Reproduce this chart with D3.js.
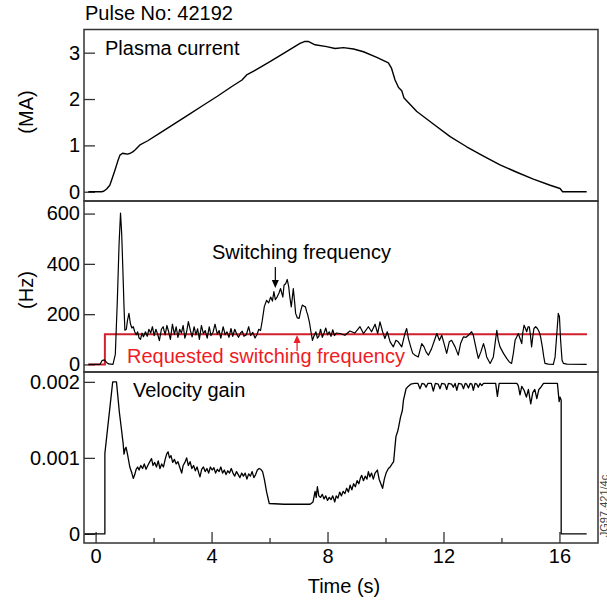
<!DOCTYPE html>
<html>
<head>
<meta charset="utf-8">
<script src="https://cdn.jsdelivr.net/npm/d3@7"></script>
<style>
  html, body { margin: 0; padding: 0; background: #fff; }
  svg { display: block; font-family: "Liberation Sans", Arial, Helvetica, sans-serif; }
</style>
</head>
<body>
<svg id="chart" width="607" height="605"></svg>
<script>
// ---------------- DATA ----------------
const pulseTitle = "Pulse No: 42192";
const xTickMajor = [0, 4, 8, 12, 16];
const xTickMinor = [2, 6, 10, 14];
const ipTicks = [0, 1, 2, 3];
const freqTicks = [0, 200, 400, 600];
const gainTicks = [0, 0.001, 0.002];

// Plasma current (MA) vs time (s)
const plasmaCurrent = [
  [-0.25,0],[0.2,0],[0.28,0.01],[0.38,0.06],[0.49,0.14],[0.58,0.3],[0.67,0.47],[0.76,0.65],[0.84,0.79],
  [0.93,0.83],[1.02,0.82],[1.1,0.81],[1.2,0.83],[1.28,0.86],[1.36,0.9],[1.53,1.01],[1.8,1.1],[2.2,1.26],
  [2.7,1.46],[3.2,1.66],[3.7,1.86],[4.2,2.06],[4.7,2.27],[5.05,2.41],[5.21,2.52],[5.5,2.62],[6.0,2.8],
  [6.5,2.99],[7.05,3.2],[7.2,3.24],[7.35,3.24],[7.57,3.17],[7.97,3.13],[8.26,3.09],[8.55,3.11],[8.9,3.08],
  [9.24,3.02],[9.7,2.9],[10.1,2.78],[10.21,2.66],[10.33,2.41],[10.45,2.25],[10.56,2.18],[10.64,2.02],
  [11.08,1.73],[11.65,1.46],[12.23,1.19],[12.8,0.97],[13.38,0.77],[13.95,0.58],[14.53,0.42],[15.1,0.27],
  [15.68,0.14],[16.02,0.07],[16.11,0.0],[16.94,0.0]
];

// Switching frequency (Hz) vs time (s)
const switchingFreq = [
  [-0.25,0],[0.15,0],[0.22,15],[0.3,18],[0.38,8],[0.45,2],[0.6,0],[0.68,40],[0.75,255],[0.81,480],
  [0.86,602],[0.9,520],[0.94,380],[0.98,230],[1.01,136],[1.06,140],[1.1,175],[1.15,203],[1.2,163],
  [1.25,145],[1.3,150],[1.35,130],[1.4,118],[1.45,130],[1.5,105],[1.55,100],[1.6,125],[1.65,110],
  [1.72,130],[1.78,112],[1.84,140],[1.9,125],[1.96,150],[2.02,115],[2.08,140],[2.14,120],[2.2,95],
  [2.27,140],[2.33,150],[2.4,118],[2.46,155],[2.52,130],[2.58,100],[2.65,160],[2.72,120],[2.78,150],
  [2.84,108],[2.9,140],[2.96,125],[3.02,155],[3.08,105],[3.14,130],[3.2,170],[3.27,135],[3.33,110],
  [3.4,150],[3.46,118],[3.52,142],[3.58,100],[3.65,155],[3.72,122],[3.78,135],[3.85,105],[3.92,150],
  [3.98,115],[4.05,128],[4.12,160],[4.2,120],[4.26,135],[4.32,105],[4.4,150],[4.47,118],[4.53,130],
  [4.6,108],[4.67,143],[4.73,112],[4.8,140],[4.87,120],[4.93,108],[5.0,125],[5.06,132],[5.12,112],
  [5.2,118],[5.28,150],[5.35,115],[5.42,128],[5.5,105],[5.57,120],[5.63,140],[5.69,135],[5.75,175],
  [5.82,230],[5.9,255],[5.97,245],[6.04,268],[6.1,252],[6.15,290],[6.2,258],[6.27,270],[6.33,285],
  [6.38,302],[6.46,268],[6.5,315],[6.56,322],[6.61,338],[6.66,310],[6.7,268],[6.75,229],[6.79,270],
  [6.82,302],[6.86,255],[6.9,203],[6.96,185],[7.02,183],[7.08,215],[7.13,236],[7.18,232],[7.24,229],
  [7.28,210],[7.32,196],[7.38,165],[7.42,136],[7.48,96],[7.54,115],[7.6,130],[7.65,105],[7.7,112],
  [7.76,140],[7.82,108],[7.88,125],[7.94,145],[8.0,118],[8.06,130],[8.12,112],[8.18,138],[8.24,115],
  [8.3,125],[8.43,123],[8.6,116],[8.77,133],[8.94,125],[9.12,150],[9.24,123],[9.41,150],[9.52,130],
  [9.64,160],[9.73,123],[9.81,169],[9.9,130],[9.98,103],[10.06,130],[10.16,90],[10.27,70],[10.36,96],
  [10.44,90],[10.56,70],[10.67,123],[10.73,143],[10.79,103],[10.87,70],[10.94,44],[11.02,37],
  [11.13,30],[11.25,83],[11.33,70],[11.4,50],[11.48,37],[11.59,63],[11.69,96],[11.77,123],[11.86,96],
  [11.94,116],[12.02,83],[12.11,44],[12.2,90],[12.28,96],[12.4,70],[12.51,37],[12.59,83],[12.69,110],
  [12.78,108],[12.86,116],[12.97,130],[13.03,116],[13.09,83],[13.15,50],[13.2,24],[13.29,50],
  [13.38,83],[13.43,63],[13.49,30],[13.61,4],[13.72,30],[13.78,83],[13.84,136],[13.89,96],[13.95,70],
  [14.07,44],[14.18,24],[14.27,10],[14.35,4],[14.41,44],[14.47,96],[14.53,110],[14.58,123],[14.64,103],
  [14.7,83],[14.73,123],[14.78,156],[14.83,143],[14.87,130],[14.92,150],[14.96,150],[15.0,116],
  [15.04,70],[15.08,110],[15.12,143],[15.18,150],[15.24,143],[15.3,130],[15.35,110],[15.41,70],
  [15.46,30],[15.5,4],[15.62,1],[15.79,0],[15.85,30],[15.91,123],[15.96,203],[16.0,190],[16.04,96],
  [16.09,17],[16.14,4],[16.26,1],[16.94,0]
];

// Requested switching frequency (Hz)
const requestedFreq = [[-0.25,0],[0.32,0],[0.32,120],[16.95,120]];

// Velocity gain vs time (s)
const velocityGain = [
  [-0.37,0],[0.32,0],[0.32,0.00106],[0.59,0.002],[0.72,0.002],[0.82,0.0016],[0.9,0.00135],[0.95,0.00119],
  [0.98,0.00105],[1.02,0.00112],[1.05,0.00114],[1.1,0.00105],[1.18,0.00088],[1.25,0.0008],[1.3,0.00073],
  [1.35,0.00078],[1.4,0.00085],[1.45,0.00088],[1.5,0.00084],[1.56,0.0009],[1.62,0.00086],[1.68,0.00092],
  [1.74,0.00085],[1.8,0.0009],[1.87,0.00095],[1.93,0.00099],[1.98,0.0009],[2.04,0.00094],[2.1,0.00088],
  [2.16,0.00096],[2.22,0.00086],[2.28,0.00092],[2.34,0.00088],[2.4,0.00098],[2.45,0.00105],[2.5,0.00108],
  [2.55,0.001],[2.6,0.00103],[2.66,0.00094],[2.72,0.00098],[2.78,0.00092],[2.84,0.00095],[2.9,0.00088],
  [2.97,0.0008],[3.02,0.0009],[3.08,0.00094],[3.14,0.001],[3.2,0.0009],[3.26,0.00095],[3.32,0.00086],
  [3.38,0.0009],[3.44,0.00083],[3.5,0.00088],[3.56,0.0008],[3.6,0.00075],[3.66,0.00085],[3.72,0.00088],
  [3.78,0.00082],[3.84,0.00086],[3.9,0.0008],[3.96,0.00088],[4.02,0.00084],[4.08,0.00087],[4.14,0.0008],
  [4.2,0.00085],[4.26,0.00082],[4.32,0.00088],[4.38,0.0008],[4.44,0.00084],[4.5,0.00078],[4.56,0.00083],
  [4.62,0.0008],[4.68,0.00086],[4.74,0.0008],[4.8,0.00076],[4.86,0.00082],[4.92,0.00078],[4.98,0.00074],
  [5.04,0.0008],[5.1,0.00076],[5.16,0.0008],[5.22,0.00072],[5.28,0.00079],[5.34,0.00076],[5.4,0.00082],
  [5.46,0.00074],[5.52,0.00078],[5.58,0.00084],[5.64,0.00086],[5.7,0.00085],[5.76,0.00082],[5.82,0.00072],
  [5.9,0.00055],[5.99,0.0004],[6.5,0.00039],[7.0,0.00039],[7.4,0.00039],[7.5,0.00042],[7.57,0.00056],
  [7.61,0.00048],[7.65,0.00062],[7.7,0.0005],[7.76,0.00048],[7.82,0.00052],[7.88,0.00046],[7.94,0.0005],
  [8.0,0.00044],[8.06,0.00048],[8.12,0.00045],[8.18,0.0005],[8.25,0.00042],[8.3,0.0005],[8.36,0.00047],
  [8.42,0.00055],[8.48,0.0005],[8.54,0.00056],[8.6,0.00053],[8.66,0.0006],[8.72,0.00055],[8.78,0.00064],
  [8.84,0.00058],[8.9,0.00066],[8.96,0.00062],[9.02,0.0007],[9.08,0.00066],[9.14,0.00074],[9.18,0.00077],
  [9.24,0.0007],[9.3,0.00076],[9.36,0.00072],[9.41,0.00082],[9.46,0.00075],[9.52,0.0008],[9.58,0.00072],
  [9.64,0.0008],[9.72,0.00084],[9.78,0.00072],[9.84,0.00066],[9.9,0.0006],[9.96,0.00072],[10.02,0.0008],
  [10.1,0.00086],[10.16,0.00088],[10.21,0.00091],[10.28,0.00095],[10.36,0.00128],[10.42,0.00135],
  [10.45,0.0014],[10.52,0.00154],[10.58,0.00162],[10.62,0.00176],[10.68,0.00186],[10.71,0.00191],
  [10.78,0.00194],[10.87,0.00197],[11.0,0.00198],[11.12,0.00198],[11.19,0.00191],[11.26,0.00198],
  [11.34,0.00197],[11.4,0.00193],[11.46,0.00198],[11.58,0.00198],[11.65,0.00188],[11.72,0.00198],
  [11.82,0.00197],[11.88,0.00191],[11.94,0.00198],[12.05,0.00197],[12.11,0.0019],[12.17,0.00198],
  [12.28,0.00197],[12.34,0.00193],[12.4,0.00198],[12.46,0.00189],[12.52,0.00198],[12.63,0.00197],
  [12.69,0.00191],[12.75,0.00198],[12.8,0.00197],[12.86,0.00192],[12.92,0.00198],[12.98,0.00197],
  [13.03,0.00189],[13.09,0.00198],[13.15,0.00197],[13.2,0.00193],[13.26,0.00198],[13.32,0.00195],
  [13.38,0.00198],[13.8,0.00198],[13.86,0.00181],[13.92,0.00198],[14.53,0.00198],[14.58,0.00195],
  [14.64,0.00183],[14.7,0.00194],[14.78,0.00189],[14.86,0.0018],[14.93,0.0019],[15.01,0.00171],
  [15.08,0.00186],[15.15,0.0019],[15.22,0.00178],[15.29,0.0019],[15.36,0.00193],[15.45,0.00198],
  [15.93,0.00198],[15.99,0.00174],[16.02,0.0018],[16.06,0.00176],[16.06,0],[16.94,0]
];

// ---------------- LAYOUT ----------------
const svg = d3.select("#chart");
const L = 84, R = 598;
const panels = [
  { top: 29.5, bottom: 201 },
  { top: 201, bottom: 372 },
  { top: 372, bottom: 543 }
];
const FONT = 20;
const frameColor = "#333";

const x = d3.scaleLinear().domain([-0.4, 17.33]).range([L, R]);
const yIp = d3.scaleLinear().domain([-0.2, 3.5]).range([panels[0].bottom, panels[0].top]);
const yF = d3.scaleLinear().domain([-30, 650]).range([panels[1].bottom, panels[1].top]);
const yG = d3.scaleLinear().domain([-0.00012, 0.00213]).range([panels[2].bottom, panels[2].top]);

// frames
panels.forEach(p => {
  svg.append("rect")
    .attr("x", L).attr("y", p.top)
    .attr("width", R - L).attr("height", p.bottom - p.top)
    .attr("fill", "none").attr("stroke", frameColor).attr("stroke-width", 1.5);
});

function styleAxis(g) {
  g.select(".domain").remove();
  g.selectAll(".tick line").attr("stroke", frameColor).attr("stroke-width", 1.3);
  g.selectAll(".tick text").attr("fill", "#000").attr("font-size", FONT)
    .attr("font-family", '"Liberation Sans", Arial, Helvetica, sans-serif');
}

// y axes
svg.append("g").attr("transform", `translate(${L},0)`)
  .call(d3.axisLeft(yIp).tickValues(ipTicks).tickSize(-11).tickPadding(4).tickFormat(d3.format("d")))
  .call(styleAxis);
svg.append("g").attr("transform", `translate(${L},0)`)
  .call(d3.axisLeft(yF).tickValues(freqTicks).tickSize(-11).tickPadding(4).tickFormat(d3.format("d")))
  .call(styleAxis);
svg.append("g").attr("transform", `translate(${L},0)`)
  .call(d3.axisLeft(yG).tickValues(gainTicks).tickSize(-11).tickPadding(4).tickFormat(d => d === 0 ? "0" : d3.format(".3f")(d)))
  .call(styleAxis);

// x axes (bottom panel only)
svg.append("g").attr("transform", `translate(0,${panels[2].bottom})`)
  .call(d3.axisBottom(x).tickValues(xTickMajor).tickSize(-11).tickPadding(6).tickFormat(d3.format("d")))
  .call(styleAxis);
svg.append("g").attr("transform", `translate(0,${panels[2].bottom})`)
  .call(d3.axisBottom(x).tickValues(xTickMinor).tickSize(-5).tickFormat(""))
  .call(styleAxis);

// lines
const mk = ys => d3.line().x(d => x(d[0])).y(d => ys(d[1]));
svg.append("path").datum(plasmaCurrent).attr("d", mk(yIp))
  .attr("fill", "none").attr("stroke", "#000").attr("stroke-width", 1.4).attr("stroke-linejoin", "round");
svg.append("path").datum(requestedFreq).attr("d", mk(yF))
  .attr("fill", "none").attr("stroke", "#d0202c").attr("stroke-width", 2);
svg.append("path").datum(switchingFreq).attr("d", mk(yF))
  .attr("fill", "none").attr("stroke", "#000").attr("stroke-width", 1.2).attr("stroke-linejoin", "round");
svg.append("path").datum(velocityGain).attr("d", mk(yG))
  .attr("fill", "none").attr("stroke", "#000").attr("stroke-width", 1.3).attr("stroke-linejoin", "round");

// texts
const txt = (s, xx, yy, opts = {}) => svg.append("text").attr("x", xx).attr("y", yy)
  .attr("font-size", opts.size || FONT).attr("fill", opts.fill || "#000")
  .attr("text-anchor", opts.anchor || "start").text(s);

txt(pulseTitle, 85, 20);
txt("Plasma current", 105, 54.5);
txt("Switching frequency", 212, 259);
txt("Requested switching frequency", 127, 363, { fill: "#ee1c25" });
txt("Velocity gain", 133, 397);
txt("Time (s)", 344, 593, { anchor: "middle" });

svg.append("text").attr("transform", "translate(33,112) rotate(-90)")
  .attr("text-anchor", "middle").attr("font-size", FONT).text("(MA)");
svg.append("text").attr("transform", "translate(33,290) rotate(-90)")
  .attr("text-anchor", "middle").attr("font-size", FONT).text("(Hz)");
svg.append("text").attr("transform", "translate(608,506) rotate(-90)")
  .attr("text-anchor", "middle").attr("font-size", 11).attr("fill", "#444").text("JG97.421/4c");

// arrows
function arrow(xx, y1, y2, color) {
  // y1 = tail, y2 = tip
  const dir = y2 > y1 ? 1 : -1;
  svg.append("line").attr("x1", xx).attr("x2", xx).attr("y1", y1).attr("y2", y2 - dir * 6)
    .attr("stroke", color).attr("stroke-width", 1.2);
  svg.append("path")
    .attr("d", `M${xx - 3.5},${y2 - dir * 8} L${xx + 3.5},${y2 - dir * 8} L${xx},${y2} Z`)
    .attr("fill", color);
}
arrow(x(6.2), 267, 288, "#000");
arrow(x(6.95), 351, 335, "#ee1c25");
</script>
</body>
</html>
